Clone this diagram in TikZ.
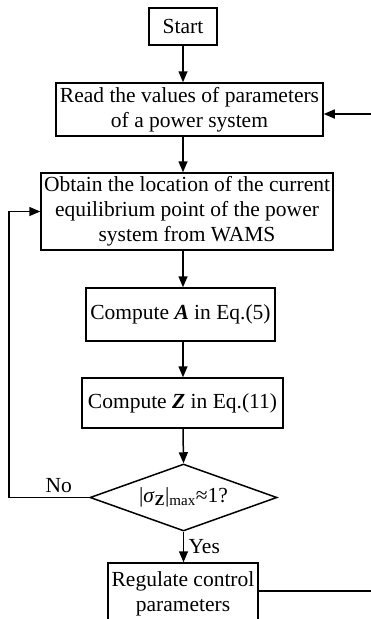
\documentclass[tikz,border=0pt]{standalone}
\usepackage{fontspec}
\setmainfont{Liberation Serif}
\usetikzlibrary{positioning,arrows.meta,shapes.geometric}

\begin{document}
\begin{tikzpicture}[x=1pt,y=-1pt,
    every node/.style={font=\fontsize{21.5}{25}\selectfont},
    procbox/.style={draw,line width=1.5pt,align=center,inner sep=0pt},
    decbox/.style={draw,diamond,line width=1.5pt,inner sep=0pt,aspect=2.8},
    flow/.style={-{Triangle[length=11pt,width=9pt]},line width=1.5pt},
    back/.style={line width=1.5pt}]
    \useasboundingbox (0,0) rectangle (371,619);
    \clip (0,0) rectangle (371,619);
    % boxes
    \node[procbox,minimum width=68pt,minimum height=37pt] (start) at (183,26.5) {Start};
    \node[procbox,minimum width=267pt,minimum height=53pt] (read) at (189.5,109.5)
      {Read the values of parameters\\of a power system};
    \node[procbox,minimum width=292pt,minimum height=77pt] (obtain) at (187,211.5)
      {Obtain the location of the current\\equilibrium point of the power\\system from WAMS};
    \node[procbox,minimum width=189pt,minimum height=53pt] (compA) at (180.5,314.5)
      {Compute \textbf{\textit{A}} in Eq.(5)};
    \node[procbox,minimum width=201pt,minimum height=50pt] (compZ) at (182.5,403)
      {Compute \textbf{\textit{Z}} in Eq.(11)};
    \node[decbox,minimum width=187pt,minimum height=67pt] (check) at (183.5,497.5)
      {|\textit{σ}\textsubscript{\textbf{Z}}|\textsubscript{max}≈1?};
    \node[procbox,minimum width=150pt,minimum height=62pt] (regulate) at (183,594)
      {Regulate control\\parameters};
    % main flow
    \draw[flow] (start) -- (start |- read.north);
    \draw[flow] (start |- read.south) -- (start |- obtain.north);
    \draw[flow] (start |- obtain.south) -- (start |- compA.north);
    \draw[flow] (start |- compA.south) -- (start |- compZ.north);
    \draw[flow] (start |- compZ.south) -- (check.north);
    \draw[flow] (check.south) -- (check.south |- regulate.north)
      node[midway,right=1pt] (yes) {Yes};
    % loops
    \coordinate (nocorner) at (9,497.5);
    \draw[back] (check.west) -- (nocorner) node[pos=0.38,above=1pt] (no) {No};
    \draw[flow] (nocorner) |- (obtain.west);
    \coordinate (retcorner) at (390,591);
    \draw[back] (regulate.east |- retcorner) -- (retcorner);
    \draw[flow] (retcorner) |- ([yshift=-4.5pt]read.east);
\end{tikzpicture}
\end{document}
